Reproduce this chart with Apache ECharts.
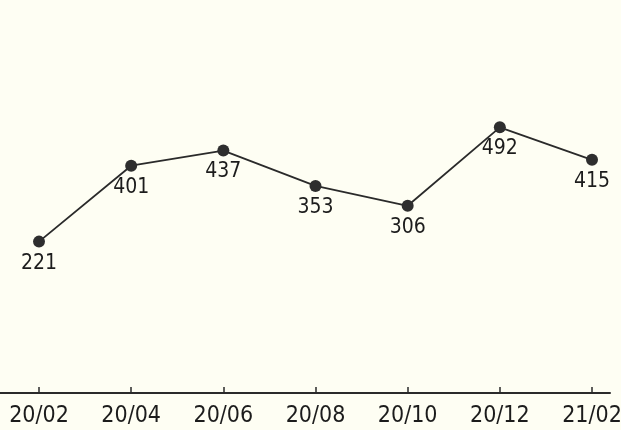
<!DOCTYPE html>
<html>
<head>
<meta charset="utf-8">
<script src="https://cdn.jsdelivr.net/npm/echarts@6/dist/echarts.min.js"></script>
<style>
html,body{margin:0;padding:0;background:#fefef3;}
#c{width:621px;height:430px;}
</style>
</head>
<body>
<div id="c"></div>
<script>
var categories = ['20/02','20/04','20/06','20/08','20/10','20/12','21/02'];
var values = [221, 401, 437, 353, 306, 492, 415];

var FONT = '"Liberation Sans Narrow", "DejaVu Sans Condensed", "Roboto Condensed", sans-serif';
var chart = echarts.init(document.getElementById('c'));
chart.setOption({
  backgroundColor: '#fefef3',
  animation: false,
  grid: [
    {left: 39, right: 29, top: 0, bottom: 37, outerBoundsMode: 'none', containLabel: false},
    {left: 0, right: 11, top: 0, bottom: 37, outerBoundsMode: 'none', containLabel: false}
  ],
  xAxis: [
    {
      type: 'category', gridIndex: 0, data: categories, boundaryGap: false,
      axisLine: {show: false, onZero: false},
      axisTick: {show: true, inside: true, length: 6, alignWithLabel: true, lineStyle: {color: '#2a2a2a', width: 1.5}},
      axisLabel: {color: '#1c1c1c', fontSize: 23, fontFamily: FONT, margin: 12, interval: 0},
      splitLine: {show: false}
    },
    {
      type: 'value', gridIndex: 1, min: 0, max: 1,
      axisLine: {show: true, onZero: false, lineStyle: {color: '#2a2a2a', width: 2}},
      axisTick: {show: false}, axisLabel: {show: false}, splitLine: {show: false}
    }
  ],
  yAxis: [
    {type: 'value', gridIndex: 0, min: -138, max: 794, show: false, splitLine: {show: false}},
    {type: 'value', gridIndex: 1, min: 0, max: 1, show: false, splitLine: {show: false}}
  ],
  series: [{
    type: 'line', xAxisIndex: 0, yAxisIndex: 0, data: values,
    symbol: 'circle', symbolSize: 12,
    itemStyle: {color: '#2e2e2e'},
    lineStyle: {color: '#2a2a2a', width: 1.8},
    label: {show: true, position: 'bottom', distance: 5, color: '#1c1c1c', fontSize: 21, fontFamily: FONT}
  }]
});
</script>
</body>
</html>
